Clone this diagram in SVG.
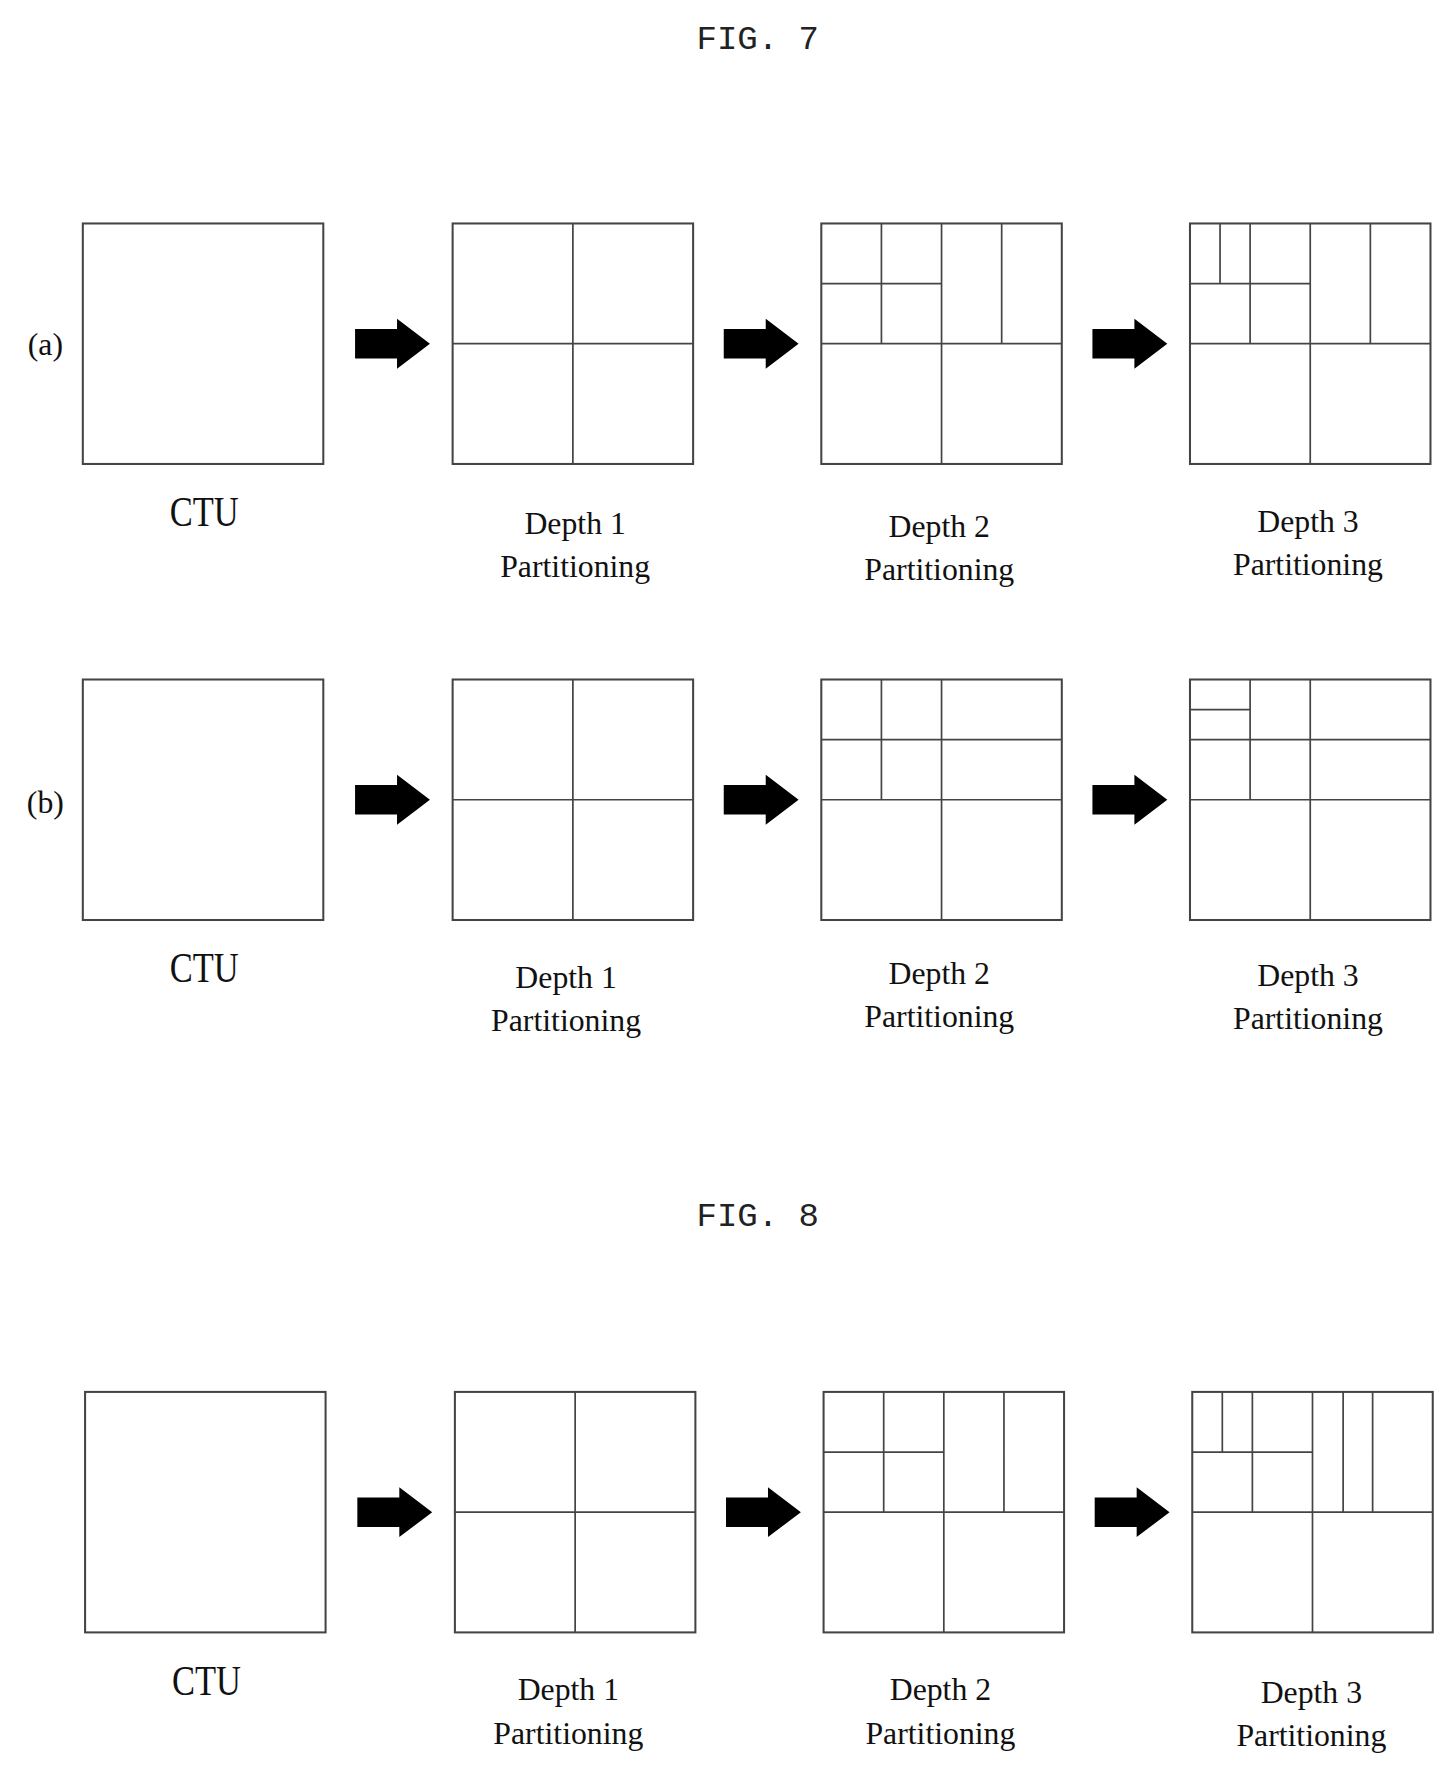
<svg xmlns="http://www.w3.org/2000/svg" xmlns:xlink="http://www.w3.org/1999/xlink" width="1452" height="1775" viewBox="0 0 1452 1775">
<style>
.b{fill:none;stroke:#444;stroke-width:1.8}
.l{stroke:#444;stroke-width:1.5}
.fig{font-family:"Liberation Mono",monospace;font-size:30px;fill:#222;text-anchor:middle}
.ctu{font-family:"Liberation Serif",serif;font-size:38px;fill:#111;text-anchor:middle}
.d{font-family:"Liberation Serif",serif;font-size:28px;fill:#111;text-anchor:middle}
.lab{font-family:"Liberation Serif",serif;font-size:28px;fill:#111;text-anchor:middle}
</style>
<defs>
<path id="arr" d="M0,-13 H37 V-22 L66,0 L37,22 V13 H0 Z" fill="#000"/>
</defs>
<rect width="1452" height="1775" fill="#fff"/>
<g transform="scale(1.1344)">
<text class="fig" x="668" y="43">FIG. 7</text>
<text class="fig" x="668" y="1081">FIG. 8</text>
<text class="lab" x="40" y="313">(a)</text>
<text class="lab" x="40" y="717">(b)</text>

<g id="a-ctu"><rect class="b" x="73" y="197" width="212" height="212"/><text class="ctu" x="180" y="464" transform="translate(180 0) scale(0.8 1) translate(-180 0)">CTU</text></g>
<g id="a-d1"><rect class="b" x="399" y="197" width="212" height="212"/><path class="l" d="M505,197V409M399,303H611"/><text class="d" x="507" y="471">Depth 1</text><text class="d" x="507" y="509">Partitioning</text></g>
<g id="a-d2"><rect class="b" x="724" y="197" width="212" height="212"/><path class="l" d="M830,197V409M724,303H936M777,197V303M724,250H830M883,197V303"/><text class="d" x="828" y="473">Depth 2</text><text class="d" x="828" y="511">Partitioning</text></g>
<g id="a-d3"><rect class="b" x="1049" y="197" width="212" height="212"/><path class="l" d="M1155,197V409M1049,303H1261M1102,197V303M1049,250H1155M1208,197V303M1075.5,197V250"/><text class="d" x="1153" y="469">Depth 3</text><text class="d" x="1153" y="507">Partitioning</text></g>

<g id="b-ctu"><rect class="b" x="73" y="599" width="212" height="212"/><text class="ctu" x="180" y="866" transform="translate(180 0) scale(0.8 1) translate(-180 0)">CTU</text></g>
<g id="b-d1"><rect class="b" x="399" y="599" width="212" height="212"/><path class="l" d="M505,599V811M399,705H611"/><text class="d" x="499" y="871">Depth 1</text><text class="d" x="499" y="909">Partitioning</text></g>
<g id="b-d2"><rect class="b" x="724" y="599" width="212" height="212"/><path class="l" d="M830,599V811M724,705H936M777,599V705M724,652H936"/><text class="d" x="828" y="867">Depth 2</text><text class="d" x="828" y="905">Partitioning</text></g>
<g id="b-d3"><rect class="b" x="1049" y="599" width="212" height="212"/><path class="l" d="M1155,599V811M1049,705H1261M1102,599V705M1049,652H1261M1049,625.5H1102"/><text class="d" x="1153" y="869">Depth 3</text><text class="d" x="1153" y="907">Partitioning</text></g>

<g id="c-ctu"><rect class="b" x="75" y="1227" width="212" height="212"/><text class="ctu" x="182" y="1494" transform="translate(182 0) scale(0.8 1) translate(-182 0)">CTU</text></g>
<g id="c-d1"><rect class="b" x="401" y="1227" width="212" height="212"/><path class="l" d="M507,1227V1439M401,1333H613"/><text class="d" x="501" y="1499">Depth 1</text><text class="d" x="501" y="1537">Partitioning</text></g>
<g id="c-d2"><rect class="b" x="726" y="1227" width="212" height="212"/><path class="l" d="M832,1227V1439M726,1333H938M779,1227V1333M726,1280H832M885,1227V1333"/><text class="d" x="829" y="1499">Depth 2</text><text class="d" x="829" y="1537">Partitioning</text></g>
<g id="c-d3"><rect class="b" x="1051" y="1227" width="212" height="212"/><path class="l" d="M1157,1227V1439M1051,1333H1263M1104,1227V1333M1051,1280H1157M1210,1227V1333M1077.5,1227V1280M1184,1227V1333"/><text class="d" x="1156" y="1501">Depth 3</text><text class="d" x="1156" y="1539">Partitioning</text></g>

<g id="connectors">
<use xlink:href="#arr" x="313" y="303"/><use xlink:href="#arr" x="638" y="303"/><use xlink:href="#arr" x="963" y="303"/>
<use xlink:href="#arr" x="313" y="705"/><use xlink:href="#arr" x="638" y="705"/><use xlink:href="#arr" x="963" y="705"/>
<use xlink:href="#arr" x="315" y="1333"/><use xlink:href="#arr" x="640" y="1333"/><use xlink:href="#arr" x="965" y="1333"/>
</g>
</g>
</svg>
